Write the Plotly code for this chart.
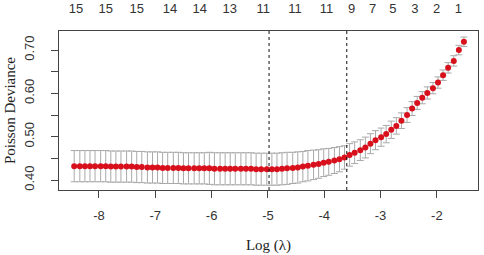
import plotly.graph_objects as go

# log(lambda) grid of the cross-validation path
log_lambda = [
    -8.44, -8.34, -8.25, -8.16, -8.07, -7.97, -7.88, -7.79, -7.70, -7.61,
    -7.51, -7.42, -7.33, -7.24, -7.14, -7.05, -6.96, -6.87, -6.78, -6.68,
    -6.59, -6.50, -6.41, -6.31, -6.22, -6.13, -6.04, -5.95, -5.85, -5.76,
    -5.67, -5.58, -5.48, -5.39, -5.30, -5.21, -5.12, -5.02, -4.93, -4.84,
    -4.75, -4.66, -4.56, -4.47, -4.38, -4.29, -4.19, -4.10, -4.01, -3.92,
    -3.82, -3.73, -3.64, -3.55, -3.46, -3.36, -3.27, -3.18, -3.09, -2.99,
    -2.90, -2.81, -2.72, -2.63, -2.53, -2.44, -2.35, -2.26, -2.17, -2.07,
    -1.98, -1.89, -1.80, -1.70, -1.61, -1.52,
]
cv_mean = [
    0.432, 0.432, 0.432, 0.432, 0.432, 0.432, 0.432, 0.431, 0.431, 0.431,
    0.431, 0.431, 0.430, 0.430, 0.429, 0.429, 0.429, 0.428, 0.428, 0.428,
    0.428, 0.427, 0.427, 0.427, 0.427, 0.427, 0.427, 0.426, 0.426, 0.426,
    0.426, 0.426, 0.426, 0.426, 0.426, 0.425, 0.425, 0.425, 0.425, 0.425,
    0.426, 0.427, 0.428, 0.429, 0.431, 0.433, 0.435, 0.437, 0.440, 0.442,
    0.445, 0.448, 0.452, 0.458, 0.463, 0.469, 0.475, 0.484, 0.492, 0.499,
    0.506, 0.516, 0.525, 0.537, 0.550, 0.565, 0.578, 0.590, 0.601, 0.612,
    0.625, 0.642, 0.659, 0.675, 0.700, 0.719,
]
cv_se = [
    0.036, 0.036, 0.036, 0.036, 0.036, 0.036, 0.036, 0.036, 0.036, 0.036,
    0.036, 0.036, 0.036, 0.036, 0.036, 0.036, 0.036, 0.036, 0.036, 0.036,
    0.036, 0.036, 0.036, 0.036, 0.036, 0.036, 0.037, 0.037, 0.037, 0.037,
    0.037, 0.037, 0.037, 0.037, 0.037, 0.037, 0.037, 0.037, 0.037, 0.037,
    0.037, 0.037, 0.036, 0.036, 0.035, 0.035, 0.034, 0.033, 0.032, 0.031,
    0.030, 0.029, 0.027, 0.026, 0.025, 0.024, 0.024, 0.023, 0.022, 0.021,
    0.020, 0.020, 0.019, 0.018, 0.017, 0.016, 0.015, 0.014, 0.014, 0.013,
    0.013, 0.012, 0.012, 0.012, 0.011, 0.011,
]

# number of non-zero coefficients shown on top
nz_pos = [-8.41, -7.88, -7.33, -6.74, -6.21, -5.68, -5.085, -4.52, -3.96,
          -3.515, -3.14, -2.78, -2.39, -2.005, -1.62]
nz_text = ["15", "15", "15", "14", "14", "13", "11", "11", "11",
           "9", "7", "5", "3", "2", "1"]

lambda_min = -4.98
lambda_1se = -3.60

x_ticks = [-8, -7, -6, -5, -4, -3, -2]
y_ticks = [0.40, 0.45, 0.50, 0.55, 0.60, 0.65, 0.70]
y_labels = ["0.40", "", "0.50", "", "0.60", "", "0.70"]

SANS = "Liberation Sans, Arial, sans-serif"
SERIF = "Liberation Serif, Times New Roman, serif"

fig = go.Figure()
fig.add_trace(go.Scatter(
    x=log_lambda, y=cv_mean, mode="markers",
    marker=dict(color="#d8101c", size=6, line=dict(width=0)),
    error_y=dict(type="data", array=cv_se, visible=True,
                 color="#a9a9a9", thickness=1, width=3.5),
    showlegend=False, hoverinfo="skip",
))
# invisible trace to carry the top axis
fig.add_trace(go.Scatter(x=[nz_pos[0]], y=[cv_mean[0]], xaxis="x2",
                         mode="markers", marker=dict(opacity=0),
                         showlegend=False, hoverinfo="skip"))

for xv in (lambda_min, lambda_1se):
    fig.add_shape(type="line", xref="x", yref="paper", x0=xv, x1=xv, y0=0, y1=1,
                  line=dict(color="#111", width=1, dash="dot"))

fig.update_layout(
    width=484, height=255,
    margin=dict(l=59, r=6, t=31, b=65),
    plot_bgcolor="white", paper_bgcolor="white",
    xaxis=dict(
        range=[-8.71, -1.27], tickvals=x_ticks, ticktext=[str(v) for v in x_ticks],
        ticks="outside", ticklen=7, tickcolor="#444", showgrid=False, zeroline=False,
        showline=True, linecolor="#444", mirror=True, automargin=False,
        tickfont=dict(family=SANS, size=13, color="#333"),
        ticklabelstandoff=6,
        title=dict(text="Log (λ)", font=dict(family=SERIF, size=15, color="#222"),
                   standoff=17),
    ),
    xaxis2=dict(
        overlaying="x", side="top", matches="x", range=[-8.71, -1.27],
        tickvals=nz_pos, ticktext=nz_text, ticks="", showgrid=False, zeroline=False,
        showline=False, automargin=False,
        tickfont=dict(family=SANS, size=13, color="#333"),
        ticklabelstandoff=14,
    ),
    yaxis=dict(
        range=[0.377, 0.744], tickvals=y_ticks, ticktext=y_labels, tickangle=-90,
        ticks="outside", ticklen=7, tickcolor="#444", showgrid=False, zeroline=False,
        showline=True, linecolor="#444", mirror=True, automargin=False,
        tickfont=dict(family=SANS, size=13, color="#333"),
        ticklabelstandoff=12,
        title=dict(text="Poisson Deviance", font=dict(family=SERIF, size=15, color="#222"),
                   standoff=2),
    ),
)

# drop the default 8px page margin so the figure fills the window
fig.write_html("out.html", config={"displayModeBar": False},
               post_script="document.body.style.margin = '0';")
